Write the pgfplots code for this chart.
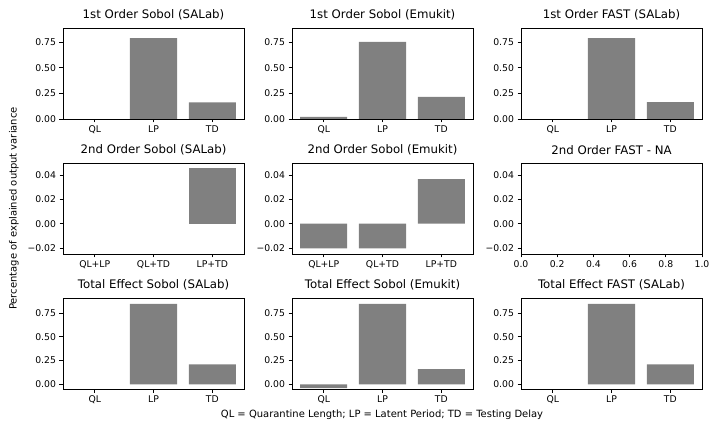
\documentclass[border=0pt]{standalone}
\usepackage{fontspec}
\setmainfont{DejaVu Sans}
\usepackage{pgfplots}
\pgfplotsset{compat=1.18}

\pgfplotsset{
  sub/.style={
    scale only axis, width=181bp, height=91bp, anchor=north west,
    axis line style={line width=0.8bp, black},
    every tick/.style={line width=0.8bp, black},
    major tick length=3.5bp,
    tick align=outside,
    xtick pos=bottom, ytick pos=left,
    scaled y ticks=false, scaled x ticks=false,
    tick label style={font=\fontsize{9.3}{11}\selectfont},
    title style={font=\fontsize{11.8}{14}\selectfont, yshift=-1.5bp},
    /pgf/number format/assume math mode=true,
  },
  barx/.style={xmin=-0.54, xmax=2.54, xtick={0,1,2}},
  row13/.style={sub, barx, ytick={0,0.25,0.5,0.75}, yticklabels={0.00,0.25,0.50,0.75}, xticklabels={QL,LP,TD}},
  row1/.style={row13, ymin=0, ymax=0.89},
  row3/.style={row13, ymin=-0.049, ymax=0.909},
  row2/.style={sub, ymin=-0.025, ymax=0.05, ytick={-0.02,0,0.02,0.04}, yticklabels={−0.02,0.00,0.02,0.04}},
  gbar/.style={ybar, bar width=0.8, bar shift=0pt, fill=gray, draw=none},
}

\begin{document}
\begin{tikzpicture}
\path[use as bounding box] (0bp,0bp) rectangle (720bp,432bp);

% Row 1
\begin{axis}[row1, at={(63bp,404bp)}, title={1st Order Sobol (SALab)}]
\addplot[gbar] coordinates {(1,0.790) (2,0.163)};
\end{axis}
\begin{axis}[row1, at={(292bp,404bp)}, title={1st Order Sobol (Emukit)}]
\addplot[gbar] coordinates {(0,0.020) (1,0.755) (2,0.216)};
\end{axis}
\begin{axis}[row1, at={(521bp,404bp)}, title={1st Order FAST (SALab)}]
\addplot[gbar] coordinates {(1,0.790) (2,0.165)};
\end{axis}

% Row 2
\begin{axis}[row2, barx, xticklabels={QL+LP,QL+TD,LP+TD}, at={(63bp,269bp)}, title={2nd Order Sobol (SALab)}]
\addplot[gbar] coordinates {(2,0.0455)};
\end{axis}
\begin{axis}[row2, barx, xticklabels={QL+LP,QL+TD,LP+TD}, at={(292bp,269bp)}, title={2nd Order Sobol (Emukit)}]
\addplot[gbar] coordinates {(0,-0.0203) (1,-0.0203) (2,0.0367)};
\end{axis}
\begin{axis}[row2, xmin=0, xmax=1, xtick={0,0.2,0.4,0.6,0.8,1}, xticklabels={0.0,0.2,0.4,0.6,0.8,1.0}, at={(521bp,269bp)}, title={2nd Order FAST - NA}]
\end{axis}

% Row 3
\begin{axis}[row3, at={(63bp,134bp)}, title={Total Effect Sobol (SALab)}]
\addplot[gbar] coordinates {(1,0.847) (2,0.210)};
\end{axis}
\begin{axis}[row3, at={(292bp,134bp)}, title={Total Effect Sobol (Emukit)}]
\addplot[gbar] coordinates {(0,-0.040) (1,0.847) (2,0.160)};
\end{axis}
\begin{axis}[row3, at={(521bp,134bp)}, title={Total Effect FAST (SALab)}]
\addplot[gbar] coordinates {(1,0.847) (2,0.210)};
\end{axis}

\node[rotate=90, font=\fontsize{10}{12}\selectfont] at (14bp,223.5bp) {Percentage of explained output variance};
\node[font=\fontsize{10}{12}\selectfont] at (382bp,17bp) {QL = Quarantine Length; LP = Latent Period; TD = Testing Delay};
\end{tikzpicture}
\end{document}
